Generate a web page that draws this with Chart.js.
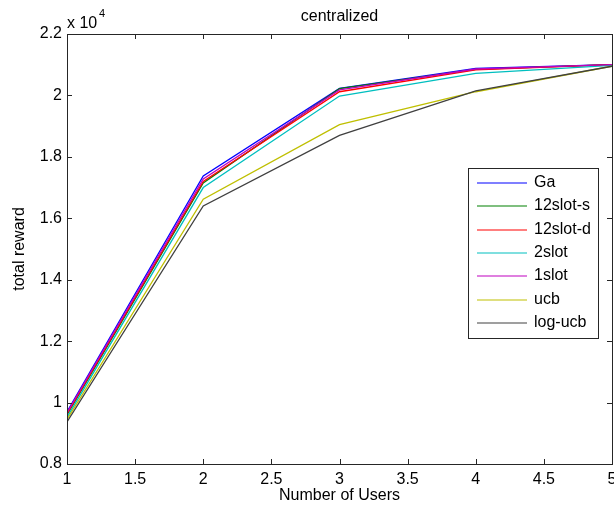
<!DOCTYPE html>
<html>
<head>
<meta charset="utf-8">
<script src="https://cdn.jsdelivr.net/npm/chart.js@4.4.1/dist/chart.umd.min.js"></script>
<style>
  html, body { margin: 0; padding: 0; background: #fff; }
  #wrap { width: 614px; height: 511px; }
</style>
</head>
<body>
<div id="wrap"><canvas id="chart" width="614" height="511"></canvas></div>
<script>
// number of users on the x axis
const users = [1, 2, 3, 4, 5];

// total reward per algorithm
const ga       = [9700, 17380, 20230, 20880, 21000];
const slot12s  = [9600, 17150, 20220, 20850, 21000];
const slot12d  = [9630, 17200, 20120, 20830, 21000];
const slot2    = [9520, 17000, 19980, 20720, 20980];
const slot1    = [9670, 17280, 20180, 20860, 21000];
const ucb      = [9450, 16620, 19050, 20120, 20950];
const logUcb   = [9370, 16400, 18700, 20150, 20950];

const seriesNames = ["Ga", "12slot-s", "12slot-d", "2slot", "1slot", "ucb", "log-ucb"];
const seriesColors = ["#0000ff", "#008000", "#ff0000", "#00bfbf", "#bf00bf", "#bfbf00", "#404040"];
const seriesData = [ga, slot12s, slot12d, slot2, slot1, ucb, logUcb];

const xTicks = [1, 1.5, 2, 2.5, 3, 3.5, 4, 4.5, 5];
const yTicks = [8000, 10000, 12000, 14000, 16000, 18000, 20000, 22000];

const FONT = "Arial, 'Liberation Sans', sans-serif";
const axisColor = "#262626";

// box, inward ticks, titles and legend in MATLAB style
const matlabAxes = {
  id: "matlabAxes",
  afterDraw(chart) {
    const ctx = chart.ctx;
    const a = chart.chartArea;
    const xs = chart.scales.x;
    const ys = chart.scales.y;
    const tick = 5;

    ctx.save();
    ctx.strokeStyle = axisColor;
    ctx.lineWidth = 1;
    ctx.strokeRect(Math.round(a.left) + 0.5, Math.round(a.top) + 0.5,
      Math.round(a.right - a.left), Math.round(a.bottom - a.top));

    ctx.beginPath();
    xTicks.forEach((v) => {
      const px = Math.round(xs.getPixelForValue(v)) + 0.5;
      ctx.moveTo(px, a.bottom);
      ctx.lineTo(px, a.bottom - tick);
      ctx.moveTo(px, a.top);
      ctx.lineTo(px, a.top + tick);
    });
    yTicks.forEach((v) => {
      const py = Math.round(ys.getPixelForValue(v)) + 0.5;
      ctx.moveTo(a.left, py);
      ctx.lineTo(a.left + tick, py);
      ctx.moveTo(a.right, py);
      ctx.lineTo(a.right - tick, py);
    });
    ctx.stroke();

    // title and axis labels
    ctx.fillStyle = "#000";
    ctx.font = "16px " + FONT;
    ctx.textAlign = "center";
    ctx.textBaseline = "middle";
    ctx.fillText("centralized", (a.left + a.right) / 2, 17);
    ctx.fillText("Number of Users", (a.left + a.right) / 2, 496);

    ctx.save();
    ctx.translate(20, (a.top + a.bottom) / 2);
    ctx.rotate(-Math.PI / 2);
    ctx.fillText("total reward", 0, 0);
    ctx.restore();

    // exponent label
    ctx.textAlign = "left";
    ctx.textBaseline = "alphabetic";
    ctx.fillText("x 10", a.left, 28);
    ctx.font = "11px " + FONT;
    ctx.fillText("4", a.left + 32, 17);

    // legend
    const lx = 468, ly = 168, lw = 130, lh = 170, rowH = 23.3;
    ctx.fillStyle = "#fff";
    ctx.fillRect(lx, ly, lw, lh);
    ctx.strokeStyle = axisColor;
    ctx.lineWidth = 1;
    ctx.strokeRect(lx + 0.5, ly + 0.5, lw, lh);
    ctx.font = "16px " + FONT;
    ctx.textBaseline = "middle";
    chart.data.datasets.forEach((ds, i) => {
      const y = Math.round(ly + 15 + i * rowH);
      ctx.strokeStyle = ds.borderColor;
      ctx.lineWidth = 1.2;
      ctx.beginPath();
      ctx.moveTo(477, y);
      ctx.lineTo(527, y);
      ctx.stroke();
      ctx.fillStyle = "#000";
      ctx.fillText(ds.label, 534, y);
    });
    ctx.restore();
  }
};

new Chart(document.getElementById("chart").getContext("2d"), {
  type: "line",
  data: {
    datasets: seriesNames.map((name, i) => ({
      label: name,
      data: users.map((u, j) => ({ x: u, y: seriesData[i][j] })),
      borderColor: seriesColors[i],
      backgroundColor: seriesColors[i],
      borderWidth: 1.3,
      pointRadius: 0,
      tension: 0,
      order: -i,
    })),
  },
  options: {
    responsive: false,
    animation: false,
    layout: { padding: { top: 34, right: 2, bottom: 0, left: 0 } },
    plugins: {
      legend: { display: false },
      tooltip: { enabled: false },
      title: { display: false },
    },
    scales: {
      x: {
        type: "linear",
        min: 1,
        max: 5,
        grid: { display: false, drawTicks: false },
        border: { display: false },
        afterBuildTicks: (s) => { s.ticks = xTicks.map((v) => ({ value: v })); },
        afterFit: (s) => { s.height = 47; s.paddingLeft = 0; s.paddingRight = 0; },
        ticks: {
          font: { family: FONT, size: 16 },
          color: "#000",
          padding: 6,
          maxRotation: 0,
          autoSkip: false,
          callback: (v) => String(v),
        },
      },
      y: {
        min: 8000,
        max: 22000,
        grid: { display: false, drawTicks: false },
        border: { display: false },
        afterBuildTicks: (s) => { s.ticks = yTicks.map((v) => ({ value: v })); },
        afterFit: (s) => { s.width = 67; s.paddingTop = 0; s.paddingBottom = 0; },
        ticks: {
          font: { family: FONT, size: 16 },
          color: "#000",
          padding: 5,
          callback: (v) => String(Math.round(v / 100) / 100),
        },
      },
    },
  },
  plugins: [matlabAxes],
});
</script>
</body>
</html>
